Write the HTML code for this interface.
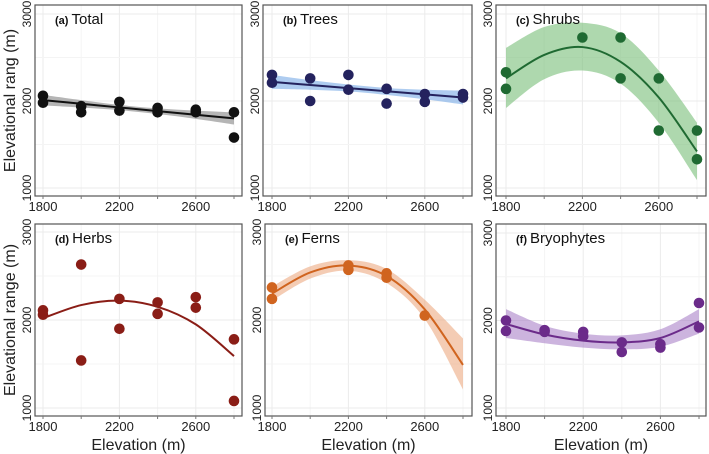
<!DOCTYPE html>
<html><head><meta charset="utf-8">
<style>
html,body{margin:0;padding:0;background:#fff;}
svg{display:block;font-family:"Liberation Sans",Arial,sans-serif;}
</style></head>
<body>
<svg id="chart" width="709" height="454" viewBox="0 0 709 454" xmlns="http://www.w3.org/2000/svg"></svg>
<script>
// shared x categories (elevation bands, m)
const elevations = [1800, 2000, 2200, 2400, 2600, 2800];
const xTicks = [1800, 2200, 2600];
const yTicks = [1000, 2000, 3000];

// (a) Total
const totalX = [1800,1800,2000,2000,2200,2200,2400,2400,2600,2600,2800,2800];
const totalY = [2060,1980,1940,1870,1990,1890,1920,1870,1900,1870,1870,1580];
const totalFit = [2010,1968,1926,1884,1842,1800];
const totalLow = [1950,1925,1895,1850,1795,1730];
const totalHigh = [2070,2010,1955,1915,1890,1870];
// (b) Trees
const treesX = [1800,1800,2000,2000,2200,2200,2400,2400,2600,2600,2800,2800];
const treesY = [2300,2210,2260,2000,2300,2130,2140,1970,2080,1990,2080,2040];
const treesFit = [2220,2184,2148,2112,2076,2040];
const treesLow = [2140,2130,2110,2070,2020,1960];
const treesHigh = [2300,2240,2190,2150,2130,2120];
// (c) Shrubs
const shrubsX = [1800,1800,2200,2400,2400,2600,2600,2800,2800];
const shrubsY = [2330,2140,2730,2730,2260,2260,1660,1660,1330];
const shrubsFit = [2260,2530,2620,2450,2040,1420];
const shrubsLow = [1920,2250,2350,2200,1750,1090];
const shrubsHigh = [2610,2850,2900,2780,2350,1750];
// (d) Herbs
const herbsX = [1800,1800,2000,2000,2200,2200,2400,2400,2600,2600,2800,2800];
const herbsY = [2110,2060,2630,1540,2240,1900,2200,2070,2260,2140,1780,1080];
const herbsFit = [2020,2170,2220,2150,1950,1590];
// (e) Ferns
const fernsX = [1800,1800,2200,2200,2400,2400,2600];
const fernsY = [2370,2240,2620,2570,2530,2480,2050];
const fernsFit = [2300,2540,2620,2500,2120,1490];
const fernsLow = [2220,2470,2560,2420,2010,1210];
const fernsHigh = [2380,2610,2680,2580,2230,1790];
// (f) Bryophytes
const bryoX = [1800,1800,2000,2000,2200,2200,2400,2400,2600,2600,2800,2800];
const bryoY = [2000,1880,1890,1870,1870,1820,1750,1640,1730,1690,2200,1920];
const bryoFit = [1960,1840,1770,1750,1800,1990];
const bryoLow = [1800,1740,1690,1670,1700,1850];
const bryoHigh = [2130,1940,1850,1830,1900,2130];

const NS = "http://www.w3.org/2000/svg";
const svg = document.getElementById('chart');
function mk(tag, attrs, parent){const e=document.createElementNS(NS,tag);for(const k in attrs)e.setAttribute(k,attrs[k]);(parent||svg).appendChild(e);return e;}

const panels = [
 {id:'total',label:'(a)',title:'Total',box:[35,5,242,196],x0:43,x1:234,yTop:14,yBot:188,xs:totalX,ys:totalY,fit:totalFit,low:totalLow,high:totalHigh,col:'#111',band:'rgba(120,120,120,0.55)',ylab:'Elevational rang (m)'},
 {id:'trees',label:'(b)',title:'Trees',box:[263,5,472,196],x0:272,x1:463,yTop:14,yBot:188,xs:treesX,ys:treesY,fit:treesFit,low:treesLow,high:treesHigh,col:'#24235e',band:'rgba(120,170,230,0.6)'},
 {id:'shrubs',label:'(c)',title:'Shrubs',box:[496,5,706,196],x0:506,x1:697,yTop:14,yBot:188,xs:shrubsX,ys:shrubsY,fit:shrubsFit,low:shrubsLow,high:shrubsHigh,col:'#1f6a32',band:'rgba(120,190,120,0.6)'},
 {id:'herbs',label:'(d)',title:'Herbs',box:[35,224,242,416],x0:43,x1:234,yTop:232,yBot:408,xs:herbsX,ys:herbsY,fit:herbsFit,low:null,high:null,col:'#8a1d16',band:null,ylab:'Elevational range (m)',xlab:true},
 {id:'ferns',label:'(e)',title:'Ferns',box:[265,224,472,416],x0:272,x1:463,yTop:232,yBot:408,xs:fernsX,ys:fernsY,fit:fernsFit,low:fernsLow,high:fernsHigh,col:'#d0641f',band:'rgba(236,170,130,0.6)',xlab:true},
 {id:'bryophytes',label:'(f)',title:'Bryophytes',box:[496,224,706,416],x0:506,x1:699,yTop:233,yBot:408,xs:bryoX,ys:bryoY,fit:bryoFit,low:bryoLow,high:bryoHigh,col:'#6b2b8a',band:'rgba(170,130,200,0.6)',xlab:true}
];

function smoothPath(pts){
  let d='M'+pts[0][0]+','+pts[0][1];
  for(let i=0;i<pts.length-1;i++){
    const p0=pts[Math.max(0,i-1)],p1=pts[i],p2=pts[i+1],p3=pts[Math.min(pts.length-1,i+2)];
    const c1=[p1[0]+(p2[0]-p0[0])/6,p1[1]+(p2[1]-p0[1])/6];
    const c2=[p2[0]-(p3[0]-p1[0])/6,p2[1]-(p3[1]-p1[1])/6];
    d+=' C'+c1[0]+','+c1[1]+' '+c2[0]+','+c2[1]+' '+p2[0]+','+p2[1];
  }
  return d;
}

panels.forEach(p=>{
  const g=mk('g',{});
  
  
  const X=v=>p.x0+(v-1800)/1000*(p.x1-p.x0);
  const Y=v=>p.yBot-(v-1000)/2000*(p.yBot-p.yTop);
  const [bx0,by0,bx1,by1]=p.box;
  for(let v=1800;v<=2800;v+=200){
    const l=mk('line',{x1:X(v),x2:X(v),y1:by0,y2:by1,stroke:(v-1800)%400===0?'#ebebeb':'#f4f4f4','stroke-width':1},g);
    
    
  }
  for(let v=1000;v<=3000;v+=500){
    const l=mk('line',{x1:bx0,x2:bx1,y1:Y(v),y2:Y(v),stroke:v%1000===0?'#ebebeb':'#f4f4f4','stroke-width':1},g);
    
    
  }
  if(p.low){
    const up=elevations.map((e,i)=>[X(e),Y(p.high[i])]);
    const lo=elevations.map((e,i)=>[X(e),Y(p.low[i])]).reverse();
    let d=smoothPath(up);
    d+=' L'+lo[0][0]+','+lo[0][1]+smoothPath(lo).replace(/^M[^ ]+/,'')+' Z';
    const b=mk('path',{d:d,fill:p.band,stroke:'none'},g);
    
    
  }
  const fl=mk('path',{d:smoothPath(elevations.map((e,i)=>[X(e),Y(p.fit[i])])),fill:'none',stroke:p.col,'stroke-width':2},g);
  
  
  p.xs.forEach((xv,i)=>{
    const c=mk('circle',{cx:X(xv),cy:Y(p.ys[i]),r:5.3,fill:p.col},g);
    
    
  });
  const r=mk('rect',{x:bx0,y:by0,width:bx1-bx0,height:by1-by0,fill:'none',stroke:'#555','stroke-width':1.2},g);
  
  
  const t=mk('text',{x:bx0+20,y:by0+19,'font-size':15,fill:'#111'},g);
  
  
  const s1=mk('tspan',{'font-weight':'bold','font-size':11},t); s1.textContent=p.label+'  ';
  const s2=mk('tspan',{},t); s2.textContent=p.title;
  elevations.forEach(v=>{mk('line',{x1:X(v),x2:X(v),y1:by1,y2:by1+3,stroke:'#777'},g);});
  xTicks.forEach(v=>{
    const tx=mk('text',{x:X(v),y:by1+15,'text-anchor':'middle','font-size':13,fill:'#222'},g);
    
    
    tx.textContent=v;
  });
  yTicks.forEach(v=>{
    const ty=mk('text',{x:0,y:0,'text-anchor':'middle','font-size':12,fill:'#222',transform:'translate('+(bx0-4)+','+Y(v)+') rotate(-90)'},g);
    
    
    ty.textContent=v;
  });
  if(p.ylab){
    const yl=mk('text',{x:0,y:0,'text-anchor':'middle','font-size':16,fill:'#222',transform:'translate(15,'+((by0+by1)/2)+') rotate(-90)'},g);
    
    
    yl.textContent=p.ylab;
  }
  if(p.xlab){
    const xl=mk('text',{x:(bx0+bx1)/2,y:450,'text-anchor':'middle','font-size':16,fill:'#222'},g);
    
    
    xl.textContent='Elevation (m)';
  }
});
</script>
</body></html>
